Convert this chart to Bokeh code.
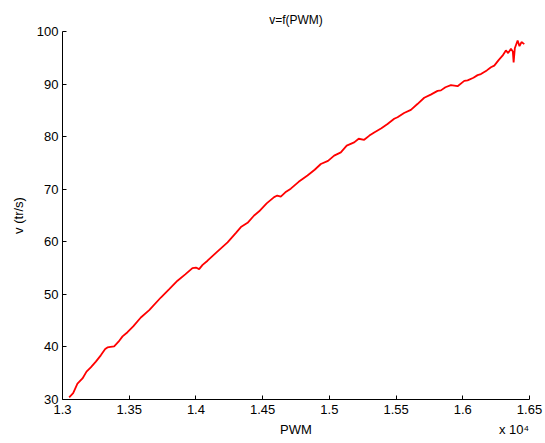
from bokeh.plotting import figure
from bokeh.models import Range1d, FixedTicker, LinearAxis
from bokeh.embed import file_html
from bokeh.resources import INLINE

# ---- data ----
pwm = [13050, 13080, 13112, 13150, 13180, 13212, 13250, 13287, 13320, 13337,
       13360, 13387, 13420, 13450, 13487, 13530, 13587, 13650, 13737, 13800,
       13862, 13920, 13974, 14000, 14024, 14050, 14087, 14150, 14237, 14300,
       14337, 14387, 14436, 14474, 14530, 14586, 14610, 14636, 14670, 14711,
       14770, 14836, 14890, 14936, 14990, 15036, 15086, 15130, 15186, 15220,
       15261, 15300, 15336, 15390, 15436, 15486, 15511, 15560, 15611, 15660,
       15711, 15760, 15811, 15836, 15870, 15911, 15936, 15961, 16011, 16036,
       16080, 16111, 16136, 16180, 16211, 16236, 16270, 16298, 16323, 16340,
       16361, 16375, 16381, 16390, 16411, 16425, 16440, 16461]
speed = [30.4, 31.2, 33.0, 34.0, 35.3, 36.1, 37.2, 38.4, 39.6, 39.9,
         40.0, 40.1, 41.0, 42.0, 42.8, 43.9, 45.6, 47.0, 49.4, 51.0,
         52.6, 53.8, 55.0, 55.1, 54.8, 55.6, 56.4, 57.9, 59.9, 61.7,
         62.8, 63.6, 65.0, 65.8, 67.3, 68.5, 68.8, 68.6, 69.4, 70.1,
         71.4, 72.6, 73.7, 74.8, 75.4, 76.4, 77.0, 78.3, 78.9, 79.6,
         79.4, 80.2, 80.8, 81.6, 82.4, 83.4, 83.7, 84.5, 85.1, 86.2,
         87.4, 88.0, 88.7, 88.8, 89.4, 89.8, 89.7, 89.6, 90.6, 90.7,
         91.2, 91.7, 91.9, 92.6, 93.2, 93.5, 94.6, 95.4, 96.4, 95.9,
         96.7, 96.2, 94.1, 96.8, 98.3, 97.2, 98.0, 97.6]

x_ticks = [13000, 13500, 14000, 14500, 15000, 15500, 16000, 16500]
x_tick_labels = ["1.3", "1.35", "1.4", "1.45", "1.5", "1.55", "1.6", "1.65"]
y_ticks = [30, 40, 50, 60, 70, 80, 90, 100]

title_text = "v=f(PWM)"
x_label = "PWM"
y_label = "v (tr/s)"
x_multiplier = "x 10\u2074"

FONT = "Liberation Sans"
X0, X1 = 13000, 16500

p = figure(width=545, height=443, output_backend="svg", toolbar_location=None,
           x_range=Range1d(X0, X1), y_range=Range1d(30, 100),
           min_border_left=62, min_border_right=16, min_border_top=31,
           min_border_bottom=44)

p.line(pwm, speed, line_color="#ff0000", line_width=1.8)

p.title.text = title_text
p.title.align = "center"
p.title.text_font = FONT
p.title.text_font_size = "12px"
p.title.text_font_style = "normal"
p.title.text_color = "black"
p.title.standoff = 10

p.grid.visible = False
p.outline_line_color = None
p.background_fill_color = "white"
p.border_fill_color = "white"

for ax in (p.xaxis[0], p.yaxis[0]):
    ax.axis_line_color = "black"
    ax.major_tick_line_color = "black"
    ax.major_tick_in = 4
    ax.major_tick_out = 0
    ax.minor_tick_line_color = None
    ax.major_label_text_font = FONT
    ax.major_label_text_font_size = "13px"
    ax.major_label_text_color = "black"
    ax.axis_label_text_font = FONT
    ax.axis_label_text_font_size = "13px"
    ax.axis_label_text_font_style = "normal"
    ax.axis_label_text_color = "black"

p.xaxis[0].ticker = FixedTicker(ticks=x_ticks)
p.xaxis[0].major_label_overrides = {t: l for t, l in zip(x_ticks, x_tick_labels)}
p.xaxis[0].major_label_standoff = 5

p.yaxis[0].ticker = FixedTicker(ticks=y_ticks)
p.yaxis[0].major_label_standoff = 4
p.yaxis[0].axis_label = y_label
p.yaxis[0].axis_label_standoff = 8

# second row below the tick labels: axis name (centered) and the
# "x 10^4" multiplier (lower right), drawn as labels of a bare axis
pos_name = (X0 + X1) / 2
pos_mult = X1 - 0.033 * (X1 - X0)
row = LinearAxis(ticker=FixedTicker(ticks=[pos_name, pos_mult]),
                 major_label_overrides={pos_name: x_label, pos_mult: x_multiplier},
                 axis_line_color=None, major_tick_line_color=None,
                 minor_tick_line_color=None, major_tick_in=0, major_tick_out=0,
                 major_label_standoff=5, major_label_text_font=FONT,
                 major_label_text_font_size="13px",
                 major_label_text_color="black")
p.add_layout(row, "below")

open("out.html", "w").write(file_html(p, INLINE))
